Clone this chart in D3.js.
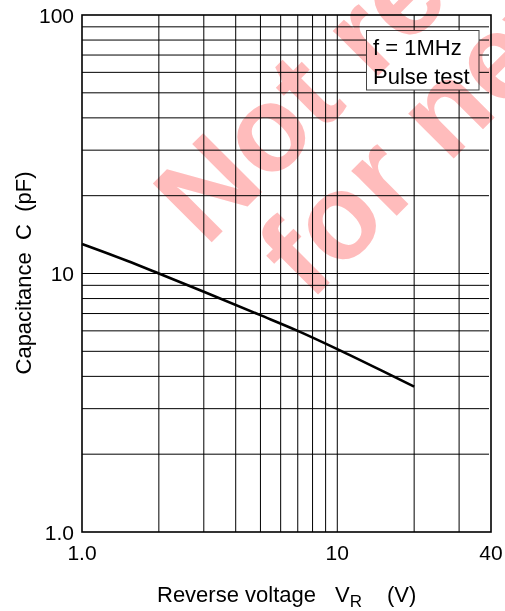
<!DOCTYPE html>
<html><head><meta charset="utf-8">
<script src="https://cdn.jsdelivr.net/npm/d3@7"></script>
<style>
html,body{margin:0;padding:0;background:#fff;}
svg{display:block;font-family:"Liberation Sans",Arial,sans-serif;}
</style></head>
<body>
<script>
// Data
const voltage = [1, 1.5, 2, 3, 5, 7, 10, 15, 20];           // V_R (V)
const capacitance = [13, 11.2, 10, 8.5, 6.9, 6.0, 5.1, 4.2, 3.65]; // C (pF)
const xGrid = [2,3,4,5,6,7,8,9,10,20,30];
const yGrid = [2,3,4,5,6,7,8,9,10,20,30,40,50,60,70,80,90];
const xTicks = [{v:1,t:"1.0"},{v:10,t:"10"},{v:40,t:"40"}];
const yTicks = [{v:1,t:"1.0"},{v:10,t:"10"},{v:100,t:"100"}];
const legendLines = ["f = 1MHz","Pulse test"];
const watermark = ["Not recommended","for new design"];

const W=505,H=611;
const svg=d3.select("body").append("svg").attr("width",W).attr("height",H);
const x=d3.scaleLog().domain([1,40]).range([82,491]);
const y=d3.scaleLog().domain([1,100]).range([532,15]);

// grid
const g=svg.append("g");
g.selectAll(".vx").data(xGrid).join("line")
 .attr("x1",d=>x(d)).attr("x2",d=>x(d)).attr("y1",y(1)).attr("y2",y(100))
 .attr("stroke","#000").attr("stroke-width",1);
g.selectAll(".hy").data(yGrid).join("line")
 .attr("x1",x(1)).attr("x2",x(40)-2).attr("y1",d=>y(d)).attr("y2",d=>y(d))
 .attr("stroke","#000").attr("stroke-width",1);
// frame
svg.append("rect").attr("x",x(1)).attr("y",y(100)).attr("width",x(40)-x(1)).attr("height",y(1)-y(100))
 .attr("fill","none").attr("stroke","#000").attr("stroke-width",1.6);

// curve
const line=d3.line().x((d,i)=>x(voltage[i])).y(d=>y(d)).curve(d3.curveMonotoneX);
svg.append("path").attr("d",line(capacitance)).attr("fill","none").attr("stroke","#000").attr("stroke-width",2.6);

// legend box
const lg=svg.append("g");
lg.append("rect").attr("x",366.5).attr("y",30.5).attr("width",112.5).attr("height",59.5)
 .attr("fill","#fff").attr("stroke","#444").attr("stroke-width",1);
lg.selectAll("text").data(legendLines).join("text")
 .attr("x",373).attr("y",(d,i)=>55+i*28.5).attr("font-size",22).attr("fill","#000").text(d=>d);

// tick labels
svg.selectAll(".xt").data(xTicks).join("text")
 .attr("x",d=>x(d.v)).attr("y",560).attr("text-anchor","middle").attr("font-size",21).text(d=>d.t);
svg.selectAll(".yt").data(yTicks).join("text")
 .attr("x",74).attr("y",d=>y(d.v)+7.5).attr("text-anchor","end").attr("font-size",21).text(d=>d.t);

// x title
const xt=svg.append("text").attr("y",601.5).attr("font-size",22);
xt.append("tspan").attr("x",157).text("Reverse voltage");
xt.append("tspan").attr("x",335).text("V");
xt.append("tspan").attr("dy",5).attr("font-size",17).text("R");
xt.append("tspan").attr("x",387).attr("dy",-5).text("(V)");

// y title
svg.append("text").attr("transform","translate(31,273) rotate(-90)")
 .attr("text-anchor","middle").attr("font-size",22).style("white-space","pre")
 .text("Capacitance  C  (pF)");

// watermark
const wm=svg.append("g").attr("transform","translate(206,248) rotate(-45)")
 .style("mix-blend-mode","multiply");
wm.selectAll("text").data(watermark).join("text")
 .attr("x",(d,i)=>i*35).attr("y",(d,i)=>i*112)
 .attr("font-size",121).attr("font-weight","bold").attr("fill","#ffbcbc").text(d=>d);
</script>
</body></html>
